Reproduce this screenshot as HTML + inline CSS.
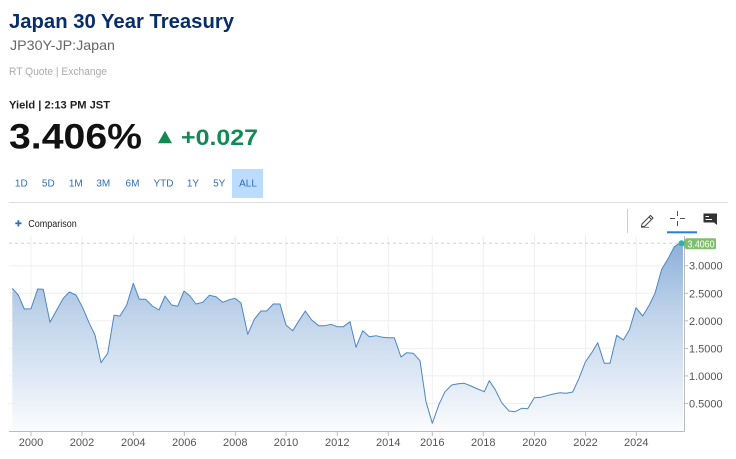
<!DOCTYPE html>
<html><head><meta charset="utf-8"><style>
html,body{margin:0;padding:0;background:#fff;}
svg{display:block;}
text{font-family:"Liberation Sans",Arial,sans-serif;}
</style></head><body>
<svg width="736" height="459" viewBox="0 0 736 459" xmlns="http://www.w3.org/2000/svg">
<defs>
<linearGradient id="g" x1="0" y1="243" x2="0" y2="431" gradientUnits="userSpaceOnUse">
<stop offset="0" stop-color="#8cb0d9"/>
<stop offset="0.35" stop-color="#bcd1e9"/>
<stop offset="0.75" stop-color="#e2ebf6"/>
<stop offset="1" stop-color="#fbfcfe"/>
</linearGradient>
</defs>
<rect width="736" height="459" fill="#fff"/>
<!-- header -->
<text x="9" y="28" font-size="20" font-weight="bold" fill="#072e6b" textLength="225" lengthAdjust="spacingAndGlyphs">Japan 30 Year Treasury</text>
<text x="10" y="50" font-size="14" fill="#666" textLength="105" lengthAdjust="spacingAndGlyphs">JP30Y-JP:Japan</text>
<text x="9" y="75" font-size="11" fill="#aaa" textLength="98" lengthAdjust="spacingAndGlyphs">RT Quote | Exchange</text>
<text x="9" y="108.3" font-size="11" font-weight="bold" fill="#222" textLength="101" lengthAdjust="spacingAndGlyphs">Yield | 2:13 PM JST</text>
<text x="9" y="148.3" font-size="35" font-weight="bold" fill="#111" textLength="133" lengthAdjust="spacingAndGlyphs">3.406%</text>
<polygon points="158,143.3 172,143.3 165,130.7" fill="#138a55"/>
<text x="181" y="145" font-size="22" font-weight="bold" fill="#138a55" textLength="77" lengthAdjust="spacingAndGlyphs">+0.027</text>
<!-- range buttons -->
<rect x="232" y="169" width="31" height="29" fill="#bcdcff"/>
<g font-size="10" fill="#2f6fb5" text-anchor="middle">
<text x="21.3" y="186.7">1D</text>
<text x="48.3" y="186.7">5D</text>
<text x="75.8" y="186.7">1M</text>
<text x="103.3" y="186.7">3M</text>
<text x="132.5" y="186.7">6M</text>
<text x="163.5" y="186.7">YTD</text>
<text x="193" y="186.7">1Y</text>
<text x="219.2" y="186.7">5Y</text>
<text x="248" y="186.7">ALL</text>
</g>
<line x1="9" y1="202.5" x2="728" y2="202.5" stroke="#ddd" stroke-width="1"/>
<!-- comparison -->
<line x1="15.3" y1="223.3" x2="21.5" y2="223.3" stroke="#2f6fb5" stroke-width="1.8"/>
<line x1="18.4" y1="220.2" x2="18.4" y2="226.4" stroke="#2f6fb5" stroke-width="1.8"/>
<text x="28.3" y="226.8" font-size="10" fill="#222" textLength="48.4" lengthAdjust="spacingAndGlyphs">Comparison</text>
<!-- toolbar -->
<line x1="627.5" y1="209" x2="627.5" y2="233" stroke="#ccc" stroke-width="1"/>
<g fill="none" stroke="#444" stroke-width="1">
<path d="M642,224 L650.5,215.5 L653,218 L644.5,226.5 L641.5,226.5 Z"/>
<line x1="649" y1="217" x2="651.5" y2="219.5"/>
<line x1="641" y1="227.5" x2="649" y2="227.5" stroke="#888"/>
</g>
<g stroke="#555" stroke-width="1">
<line x1="670" y1="218.5" x2="675" y2="218.5"/>
<line x1="680" y1="218.5" x2="685" y2="218.5"/>
<line x1="677.5" y1="211" x2="677.5" y2="216"/>
<line x1="677.5" y1="221" x2="677.5" y2="226"/>
</g>
<path d="M703.5,213.5 H717 V222.5 L717,225 L714,222.5 H703.5 Z" fill="#333"/>
<g stroke="#fff" stroke-width="1">
<line x1="705.5" y1="216.5" x2="709" y2="216.5"/>
<line x1="705.5" y1="219.5" x2="712" y2="219.5"/>
</g>
<rect x="667" y="231.3" width="30" height="2" fill="#2e7be0"/>
<!-- grid -->
<g stroke="#efefef" stroke-width="1">
<line x1="9" y1="265.7" x2="684" y2="265.7"/>
<line x1="9" y1="293.3" x2="684" y2="293.3"/>
<line x1="9" y1="320.8" x2="684" y2="320.8"/>
<line x1="9" y1="348.4" x2="684" y2="348.4"/>
<line x1="9" y1="375.9" x2="684" y2="375.9"/>
<line x1="9" y1="403.5" x2="684" y2="403.5"/>
<line x1="31" y1="236" x2="31" y2="431"/>
<line x1="82" y1="236" x2="82" y2="431"/>
<line x1="133.3" y1="236" x2="133.3" y2="431"/>
<line x1="184.3" y1="236" x2="184.3" y2="431"/>
<line x1="235.3" y1="236" x2="235.3" y2="431"/>
<line x1="286" y1="236" x2="286" y2="431"/>
<line x1="337.3" y1="236" x2="337.3" y2="431"/>
<line x1="388.3" y1="236" x2="388.3" y2="431"/>
<line x1="432.3" y1="236" x2="432.3" y2="431"/>
<line x1="483.3" y1="236" x2="483.3" y2="431"/>
<line x1="534.5" y1="236" x2="534.5" y2="431"/>
<line x1="585.5" y1="236" x2="585.5" y2="431"/>
<line x1="636.3" y1="236" x2="636.3" y2="431"/>
</g>
<line x1="9" y1="243.3" x2="681" y2="243.3" stroke="#d6d2c6" stroke-width="1" stroke-dasharray="3,3"/>
<!-- series -->
<path fill="url(#g)" stroke="none" d="M12.3,431 L12.3,288.3 L18.3,295 L24.3,309 L31,308.7 L37.7,289 L43.3,289.3 L50,322.3 L56.7,310 L63.3,298.3 L69.3,292 L76,295 L82.7,307.7 L89.3,323.3 L95,335 L101,362.7 L107.7,353.3 L114,315.3 L120,316 L126.7,305 L133.3,283.3 L139.3,299.3 L145.7,299.3 L152.3,306 L159,310 L165,296 L171.7,305 L177.7,306.3 L184,291 L190,296 L196,304 L202.7,302.3 L209.3,295.3 L216,296.7 L222.7,302.3 L229.3,299.7 L235,298.3 L241,303 L247.7,334.3 L254.3,319.3 L261,311 L266.7,311 L273.3,304 L280,304 L286,325 L292.7,330.7 L299,320.7 L305.3,311 L311.7,320 L318.7,325.7 L325,325.7 L331,324.3 L337.3,326.7 L343.3,326.7 L350,321.7 L356,347.3 L362.7,330.7 L369.3,336.7 L376,335.7 L382.7,337.3 L388.3,337.7 L394.3,337.7 L401,357 L406.7,352.7 L413.3,353.3 L420,360.7 L426,401.7 L432.3,423.3 L439,404.3 L445,391.7 L451.7,385 L458.3,383.7 L464.3,383.3 L471,386 L477.7,389 L484.3,391.7 L489.3,380.7 L495,389.3 L501.7,402.7 L509,411 L515,411.7 L521.7,408.3 L527.7,408.7 L534.3,397.7 L541,397.3 L546.7,395.7 L553.3,394 L560,392.7 L566,393.3 L572.7,392 L579,378.3 L585.3,362 L591.7,352.7 L597.7,342.7 L604.3,363.3 L610,363.3 L616.7,335.3 L623.3,340 L629.3,330 L636,307.7 L642.7,316 L649.3,305 L655,293.3 L661.7,269.3 L668.3,258.3 L674.3,246.7 L680,243 L683,243 L683,431 Z"/>
<path fill="none" stroke="#4f86c0" stroke-width="1" stroke-linejoin="round" d="M12.3,288.3 L18.3,295 L24.3,309 L31,308.7 L37.7,289 L43.3,289.3 L50,322.3 L56.7,310 L63.3,298.3 L69.3,292 L76,295 L82.7,307.7 L89.3,323.3 L95,335 L101,362.7 L107.7,353.3 L114,315.3 L120,316 L126.7,305 L133.3,283.3 L139.3,299.3 L145.7,299.3 L152.3,306 L159,310 L165,296 L171.7,305 L177.7,306.3 L184,291 L190,296 L196,304 L202.7,302.3 L209.3,295.3 L216,296.7 L222.7,302.3 L229.3,299.7 L235,298.3 L241,303 L247.7,334.3 L254.3,319.3 L261,311 L266.7,311 L273.3,304 L280,304 L286,325 L292.7,330.7 L299,320.7 L305.3,311 L311.7,320 L318.7,325.7 L325,325.7 L331,324.3 L337.3,326.7 L343.3,326.7 L350,321.7 L356,347.3 L362.7,330.7 L369.3,336.7 L376,335.7 L382.7,337.3 L388.3,337.7 L394.3,337.7 L401,357 L406.7,352.7 L413.3,353.3 L420,360.7 L426,401.7 L432.3,423.3 L439,404.3 L445,391.7 L451.7,385 L458.3,383.7 L464.3,383.3 L471,386 L477.7,389 L484.3,391.7 L489.3,380.7 L495,389.3 L501.7,402.7 L509,411 L515,411.7 L521.7,408.3 L527.7,408.7 L534.3,397.7 L541,397.3 L546.7,395.7 L553.3,394 L560,392.7 L566,393.3 L572.7,392 L579,378.3 L585.3,362 L591.7,352.7 L597.7,342.7 L604.3,363.3 L610,363.3 L616.7,335.3 L623.3,340 L629.3,330 L636,307.7 L642.7,316 L649.3,305 L655,293.3 L661.7,269.3 L668.3,258.3 L674.3,246.7 L680,243 L683,243"/>
<!-- axes -->
<line x1="9" y1="431.5" x2="684.5" y2="431.5" stroke="#bbb" stroke-width="1"/>
<line x1="684.5" y1="236" x2="684.5" y2="431.5" stroke="#bbb" stroke-width="1"/>
<g stroke="#bbb" stroke-width="1">
<line x1="31" y1="431" x2="31" y2="436"/>
<line x1="82" y1="431" x2="82" y2="436"/>
<line x1="133.3" y1="431" x2="133.3" y2="436"/>
<line x1="184.3" y1="431" x2="184.3" y2="436"/>
<line x1="235.3" y1="431" x2="235.3" y2="436"/>
<line x1="286" y1="431" x2="286" y2="436"/>
<line x1="337.3" y1="431" x2="337.3" y2="436"/>
<line x1="388.3" y1="431" x2="388.3" y2="436"/>
<line x1="432.3" y1="431" x2="432.3" y2="436"/>
<line x1="483.3" y1="431" x2="483.3" y2="436"/>
<line x1="534.5" y1="431" x2="534.5" y2="436"/>
<line x1="585.5" y1="431" x2="585.5" y2="436"/>
<line x1="636.3" y1="431" x2="636.3" y2="436"/>
<line x1="684" y1="265.7" x2="688" y2="265.7"/>
<line x1="684" y1="293.3" x2="688" y2="293.3"/>
<line x1="684" y1="320.8" x2="688" y2="320.8"/>
<line x1="684" y1="348.4" x2="688" y2="348.4"/>
<line x1="684" y1="375.9" x2="688" y2="375.9"/>
<line x1="684" y1="403.5" x2="688" y2="403.5"/>
</g>
<g font-size="11" fill="#555" text-anchor="middle">
<text x="31" y="446">2000</text>
<text x="82" y="446">2002</text>
<text x="133.3" y="446">2004</text>
<text x="184.3" y="446">2006</text>
<text x="235.3" y="446">2008</text>
<text x="286" y="446">2010</text>
<text x="337.3" y="446">2012</text>
<text x="388.3" y="446">2014</text>
<text x="432.3" y="446">2016</text>
<text x="483.3" y="446">2018</text>
<text x="534.5" y="446">2020</text>
<text x="585.5" y="446">2022</text>
<text x="636.3" y="446">2024</text>
</g>
<g font-size="11" fill="#555">
<text x="689" y="269.7">3.0000</text>
<text x="689" y="297.3">2.5000</text>
<text x="689" y="324.8">2.0000</text>
<text x="689" y="352.4">1.5000</text>
<text x="689" y="379.9">1.0000</text>
<text x="689" y="407.5">0.5000</text>
</g>
<!-- last value label -->
<path d="M681.5,243.8 L686,238.3 H714.5 Q716,238.3 716,239.8 V247.8 Q716,249.3 714.5,249.3 H686 Z" fill="#80bd6e"/>
<text x="687.5" y="247.6" font-size="10.5" fill="#fff" textLength="27" lengthAdjust="spacingAndGlyphs">3.4060</text>
<circle cx="681.5" cy="243.3" r="3" fill="#2fb0b8"/>
</svg>
</body></html>
